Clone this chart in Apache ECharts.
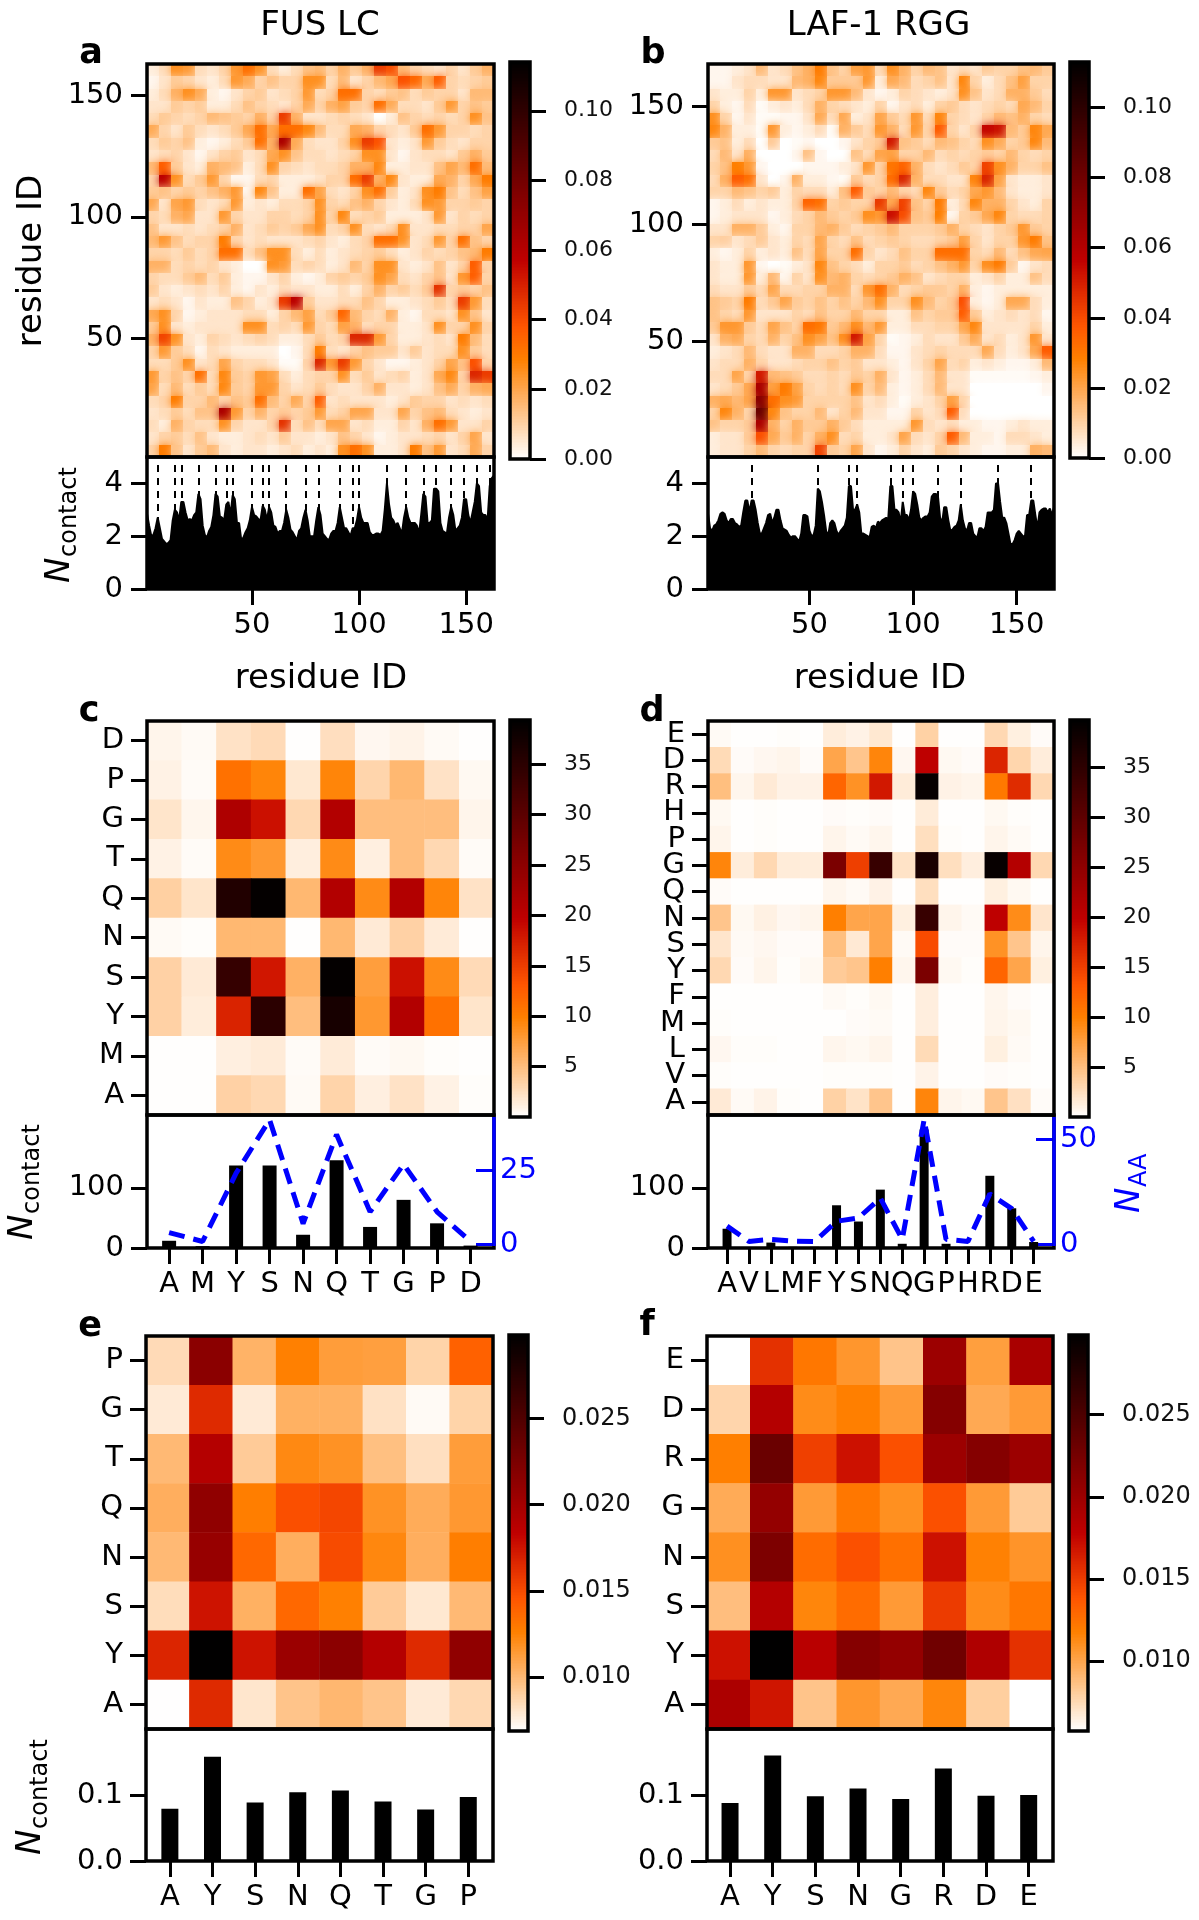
<!DOCTYPE html>
<html><head><meta charset="utf-8">
<style>html,body{margin:0;padding:0;background:#fff}#c{width:1199px;height:1920px}</style>
<script src="https://cdn.jsdelivr.net/npm/echarts@6/dist/echarts.min.js"></script>
</head><body><div id="c"></div>
<script>
// ---------- Panel a: residue contact map, coarse reading, rows from top to bottom
const mapA = [
[8,12,30,28,12,10,14,28,38,30,12,8,12,18,20,14,22,16,22,50,46,20,14,12,10,14,10,16,22],
[6,10,16,14,10,8,12,28,24,14,18,14,14,30,30,12,20,10,14,20,24,45,40,24,42,14,12,14,16],
[8,12,22,30,24,8,6,10,14,16,10,12,14,28,12,14,38,38,14,12,16,18,12,16,14,14,10,20,20],
[10,10,16,14,16,8,8,12,18,14,12,10,14,24,14,22,26,16,14,38,24,12,12,10,16,28,14,18,16],
[12,16,14,12,14,20,18,16,14,22,14,50,22,10,10,12,14,12,10,4,8,18,14,12,14,12,14,30,18],
[24,14,10,16,12,10,12,16,24,38,24,38,38,32,20,12,12,24,22,14,12,10,16,38,28,14,14,12,14],
[12,16,14,18,8,6,8,12,16,38,22,70,24,12,10,10,14,30,50,45,10,8,10,28,16,12,10,14,14],
[10,12,14,10,6,10,14,16,10,12,24,30,18,12,12,10,12,14,30,30,10,6,10,12,12,10,16,22,16],
[20,42,16,10,8,22,20,18,8,12,30,14,12,10,12,12,14,22,22,32,8,8,10,10,18,25,20,38,20],
[14,65,30,12,16,28,14,6,6,12,14,8,8,8,10,14,14,38,50,22,32,10,8,8,24,22,14,24,35],
[16,18,14,16,14,18,22,28,6,32,18,8,8,38,26,12,10,14,30,38,16,8,10,30,35,18,12,18,26],
[25,10,25,28,12,10,12,28,8,10,8,12,12,14,30,14,12,18,22,14,10,8,12,30,28,14,14,16,14],
[14,12,22,25,10,10,28,14,10,10,14,14,12,14,30,14,32,12,14,16,8,8,8,10,28,10,14,12,14],
[18,10,10,12,10,12,14,22,10,12,16,14,16,24,30,12,14,30,12,10,12,30,10,10,12,12,14,14,25],
[20,28,18,12,14,14,35,14,10,12,10,10,10,12,14,10,8,12,14,38,38,30,10,12,28,14,38,18,14],
[14,14,12,16,12,14,38,38,12,18,30,30,12,8,12,8,10,12,14,16,12,8,10,14,12,14,18,20,35],
[22,22,12,14,12,14,10,8,4,4,30,28,12,14,12,8,10,20,14,30,30,10,8,10,18,10,14,42,14],
[14,12,12,16,20,12,16,8,6,6,10,14,8,6,8,14,16,14,16,30,26,12,10,14,18,10,28,42,14],
[16,10,8,10,12,10,14,8,6,10,8,12,10,10,8,8,12,8,14,22,14,16,12,16,52,14,16,14,18],
[10,12,10,6,10,8,8,18,14,8,10,50,65,16,10,10,12,12,18,14,8,8,10,12,16,12,50,28,12],
[24,30,14,6,8,10,10,10,12,12,8,14,20,26,12,16,40,20,14,12,22,8,6,12,12,10,30,18,10],
[16,30,10,8,10,10,10,10,30,30,12,14,12,28,14,12,26,22,12,14,14,8,8,10,30,14,14,30,14],
[22,48,30,10,8,14,12,10,12,14,12,8,8,12,16,12,14,55,55,28,14,8,8,10,12,10,35,20,12],
[14,28,16,12,6,12,10,8,8,8,8,4,6,12,35,12,10,14,18,16,16,10,16,10,12,12,30,16,12],
[12,12,16,30,10,12,25,14,12,12,10,5,5,14,55,28,50,28,14,10,6,6,8,10,14,25,18,45,14],
[28,14,18,14,38,12,32,16,14,28,26,12,8,12,14,14,30,12,16,10,12,14,8,10,24,32,14,55,50],
[26,12,20,12,16,12,32,16,14,28,28,14,10,12,16,12,10,10,14,22,10,10,8,10,18,24,14,22,24],
[12,14,35,14,14,20,14,18,16,38,20,14,24,14,42,10,12,10,10,10,8,10,16,14,14,10,12,10,12],
[10,12,16,12,18,18,70,28,14,22,14,16,14,16,28,12,14,25,25,10,10,25,14,18,20,12,10,8,10],
[12,8,22,14,12,12,30,14,10,10,14,52,12,18,12,25,25,10,12,8,8,14,10,22,38,28,10,10,14],
[10,14,16,12,18,10,8,8,10,12,10,16,10,10,8,10,18,14,10,6,8,10,10,12,14,10,14,25,10],
[14,35,18,10,16,20,10,8,10,10,8,10,12,8,10,8,30,38,30,8,8,10,35,18,28,10,12,24,14]];
// ---------- Panel b: same reading
const mapB = [
[6,6,8,10,20,10,12,18,22,35,18,14,26,28,12,30,22,14,20,18,10,12,10,16,14,14,18,20,16],
[6,6,10,12,12,10,10,20,22,32,16,16,16,28,8,24,20,12,14,18,10,32,14,8,12,18,26,14,14],
[10,8,8,14,8,28,28,10,12,14,28,28,20,10,6,8,14,12,10,8,10,30,18,10,12,22,22,16,12],
[14,8,6,12,5,8,10,8,12,22,14,12,10,8,14,6,10,12,8,14,16,12,10,12,14,12,24,20,14],
[30,14,6,10,5,5,6,6,10,24,12,24,8,10,25,16,12,28,12,32,14,12,10,14,20,18,22,14,12],
[32,22,8,8,5,28,8,6,8,12,5,22,16,12,28,22,12,28,14,42,14,10,14,62,60,20,16,32,24],
[16,18,8,12,4,16,4,5,6,4,3,6,10,14,16,58,18,16,12,20,18,14,12,30,24,14,16,32,20],
[12,20,10,22,4,3,3,6,18,6,4,4,18,12,25,26,14,14,20,12,14,12,14,16,14,20,14,12,14],
[14,18,34,28,6,4,3,4,6,6,6,8,10,28,14,36,40,22,12,10,12,16,14,48,30,22,14,14,18],
[12,22,42,38,10,4,6,22,8,8,6,5,16,12,14,38,55,22,12,12,10,10,32,55,26,10,8,8,10],
[14,14,20,18,14,16,8,14,12,12,8,18,42,16,14,20,14,12,32,16,12,14,24,28,20,10,8,8,10],
[6,8,12,8,10,8,8,14,40,38,14,16,14,14,50,24,48,18,14,35,8,12,32,22,22,14,10,8,14],
[6,8,10,10,10,6,8,12,14,20,16,14,16,30,28,60,46,18,16,34,6,14,16,24,32,14,12,12,14],
[10,10,22,22,16,8,6,14,14,20,22,16,12,14,16,20,14,14,14,16,22,14,12,10,14,16,28,16,14],
[14,15,10,12,16,10,8,14,12,25,14,12,18,12,14,16,14,12,12,14,16,26,14,10,14,14,28,35,18],
[8,6,8,14,8,10,8,18,12,25,14,14,38,14,10,12,18,14,14,38,38,38,14,12,20,12,18,24,25],
[10,8,8,28,6,4,5,8,10,32,18,14,12,8,14,14,16,12,14,18,22,28,14,30,35,16,6,10,12],
[10,8,8,28,8,20,6,14,10,30,20,22,14,12,14,16,22,18,10,12,14,14,8,10,14,8,8,18,12],
[12,10,10,16,12,25,12,12,14,14,22,22,12,28,38,22,12,14,16,16,14,22,8,6,8,8,8,8,8],
[18,16,14,35,12,16,25,16,14,18,14,18,14,20,30,14,14,30,20,14,16,45,8,6,8,24,24,12,8],
[18,14,12,28,10,10,10,14,12,18,14,14,20,14,14,8,8,18,14,16,16,42,16,8,10,12,10,12,6],
[16,28,28,16,12,25,18,14,38,36,16,20,30,20,28,8,8,12,12,14,14,24,32,10,10,10,10,14,8],
[10,22,24,14,12,22,14,18,30,26,18,30,58,26,14,5,6,8,12,10,10,16,24,10,12,8,10,28,10],
[8,10,12,20,12,10,10,22,22,12,12,14,22,22,12,6,6,10,12,14,12,12,12,24,12,8,10,24,42],
[10,12,12,22,14,10,10,12,14,14,18,14,16,10,10,8,6,10,14,25,12,14,8,10,8,6,6,8,20],
[12,12,25,14,58,20,18,16,12,12,14,12,16,14,22,10,6,8,12,20,10,10,5,5,5,5,5,6,8],
[10,12,16,24,70,26,35,26,14,12,14,12,30,14,20,8,6,8,12,20,10,10,3,3,3,3,3,4,6],
[22,24,20,25,80,38,30,28,14,14,14,14,18,10,12,8,5,8,10,14,26,14,3,3,3,3,3,3,4],
[14,32,22,14,90,32,18,14,14,20,10,14,20,10,10,6,6,14,10,12,42,12,3,3,3,3,3,3,4],
[18,14,14,16,70,22,14,22,16,16,22,16,12,8,8,8,8,28,12,10,12,8,8,6,6,8,10,8,8],
[8,10,10,16,45,24,16,22,14,22,30,12,14,8,8,10,25,12,10,14,42,20,8,8,6,12,12,10,8],
[8,10,10,14,20,14,12,14,14,48,16,14,25,10,6,8,14,10,8,16,14,10,8,6,6,8,8,22,20]];
// my grid readings run a little high on the pale background: this is the colour-bar calibration of those readings
const readingZero = 4, readingGain = 0.00095;
// ---------- Per-residue contact profiles
const profileA = [2.85,2.4,2.0,2.05,2.3,2.7,2.3,1.9,1.8,1.7,1.75,1.85,2.6,3.0,2.9,2.6,3.3,3.3,2.9,2.6,2.65,2.6,2.8,2.9,3.6,3.4,2.4,2.05,1.95,2.2,2.35,2.8,3.6,3.5,2.75,2.7,2.6,3.2,3.3,2.8,3.55,3.4,2.5,2.5,1.85,1.95,2.15,2.3,2.6,3.1,2.8,2.75,2.65,2.6,3.15,3.0,2.6,3.1,2.9,2.4,2.35,2.1,2.2,2.2,2.5,3.0,2.7,2.25,2.15,2.0,1.85,2.2,2.3,2.7,3.0,2.6,2.0,2.0,2.0,2.6,3.1,2.8,2.1,2.0,1.9,1.85,2.1,2.2,2.2,2.5,3.1,2.7,2.3,2.3,2.15,2.0,2.3,2.3,2.6,3.1,2.7,2.5,2.5,2.5,2.15,2.05,2.05,2.1,2.1,2.05,2.2,3.0,4.0,3.2,2.7,2.6,2.4,2.5,2.3,2.1,2.7,3.1,2.7,2.5,2.5,2.5,2.4,2.1,2.8,3.6,3.5,2.5,2.5,2.6,3.8,3.8,3.7,2.5,2.2,2.15,2.1,2.7,3.1,2.8,2.2,2.3,2.4,2.7,3.4,3.4,2.8,2.5,2.9,3.3,4.0,3.9,2.9,2.8,2.8,2.6,3.9,4.2,4.3];
const profileB = [2.85,2.3,2.2,2.4,2.45,2.6,2.85,2.9,2.85,2.6,2.5,2.65,2.65,2.5,2.45,2.35,2.4,2.9,3.35,3.35,2.9,3.35,3.35,3.0,2.5,2.1,2.1,2.3,2.5,2.8,2.85,2.5,2.7,3.0,3.0,2.6,2.3,2.25,2.2,2.05,1.95,2.0,2.0,1.9,1.8,2.1,2.8,2.8,2.75,2.2,2.0,2.05,2.4,3.8,3.7,3.3,2.8,2.2,2.0,2.5,2.6,2.5,2.2,2.05,2.2,2.3,2.4,2.7,3.9,3.9,3.0,3.0,3.2,2.9,2.1,2.1,2.05,2.0,1.95,2.35,2.4,2.3,2.55,2.5,2.6,2.65,2.7,2.65,3.9,3.9,3.0,3.0,2.9,2.5,3.3,2.8,2.8,2.6,3.0,3.7,3.6,3.2,2.7,2.6,2.7,2.75,2.75,2.9,3.5,3.6,3.6,3.5,2.7,2.5,3.1,3.1,2.6,2.2,2.25,2.35,2.4,2.6,3.2,2.6,2.3,2.2,2.5,2.5,2.1,2.0,1.95,2.3,2.3,2.2,2.35,2.9,2.9,2.9,3.0,4.0,4.0,3.3,2.7,2.7,2.5,2.1,1.7,1.7,1.85,2.1,2.2,2.1,2.0,2.0,2.8,2.8,3.35,3.35,2.8,2.3,2.9,3.0,3.05,3.05,2.9,3.05,2.8,3.1];
const peaksA = [6,14,17,25,33,38,41,50,55,58,66,75,81,91,97,100,113,122,130,136,143,149,155,161];
const peaksB = [22,54,69,73,89,95,100,112,123,141,157];
// ---------- Panel c: contact sum, rows top to bottom
const catsC = ['A','M','Y','S','N','Q','T','G','P','D'];
const matC = [
[.8,.4,2.2,2.8,.1,2.5,.6,.9,.4,.1],
[1,.3,11,9.5,1.8,9.5,3.2,5.5,2.2,.5],
[2,.7,21.5,18.5,3,21,5,5,5,.8],
[1,.3,9,8,1.3,9,1.2,5,3,.3],
[3.6,2,36,39,5.5,21,9,21,9.5,2.2],
[.4,.2,5.5,5.5,.1,5.5,1.6,3.5,1.5,.1],
[3.5,1.6,34,18,6,39,7.5,18.5,9,2.8],
[3.5,1.4,17,35,5,37,8,21,11,2],
[.1,.1,1.2,1.5,.3,1.5,.3,.5,.2,.1],
[.1,.1,3.5,3,.4,3.3,1.2,2.2,1,.2]];
const barsC = [12,3,137,137,22,146,35,80,41,4];
const countC = [4,1,24,42,7,37,11,27,11,1];
// ---------- Panel d
const catsD = ['A','V','L','M','F','Y','S','N','Q','G','P','H','R','D','E'];
const matD = [
[.4,.1,.1,.2,.1,1.4,1,1.8,.1,3.5,.1,.1,3,1.2,.3],
[2.8,.3,.6,.8,.3,7,4.5,9.5,.6,20,.5,.3,17,3.2,1.4],
[5,.7,1.6,1,1,12,8.5,18,1.5,39,1,.8,10.5,16.5,3],
[.5,.1,.2,.1,.1,.3,.2,.3,.1,1.5,.1,.1,.5,.2,.1],
[.8,.1,.2,.1,.1,.8,.4,.7,.1,2.5,.2,.1,.8,.4,.1],
[9.5,1.4,3,1.5,1.4,27,15,34,2.2,37,2.5,1.3,39,21,3],
[.3,.1,.1,.1,.1,.7,.4,1,.1,2.5,.1,.1,1.2,.5,.1],
[4.5,.5,1.1,.6,.8,10,7,7,1.2,34,.8,.4,20,9,2],
[2,.4,.6,.3,.3,5,1.7,7,.4,14,.3,.3,8.5,4.5,.8],
[3,.3,.8,.2,.5,4,4.5,10,.7,27,.5,.2,12,7,1.2],
[.1,.1,.1,.1,.1,.4,.2,.5,.1,1.3,.1,.1,.7,.3,.1],
[.2,.1,.1,.1,.1,.1,.3,.4,.1,1.3,.1,.1,.8,.5,.1],
[.6,.2,.2,.1,.1,.7,.5,.8,.1,2.8,.1,.1,1.2,.4,.1],
[.2,.1,.1,.1,.1,.2,.2,.2,.1,.9,.1,.1,.3,.2,.1],
[1.6,.4,.9,.2,.1,3.5,2.2,4.5,.1,9.5,.8,.5,4.5,2.4,.3]];
const barsD = [32,1,9,2,2,71,44,97,7,197,7,2,120,66,10];
const countD = [8.7,1.4,2.4,1.6,1.4,11,12.6,22,2.4,59.4,2.4,1.4,24,17,1.4];
// ---------- Panel e
const catsE = ['A','Y','S','N','Q','T','G','P'];
const matE = [
[.0085,.0215,.0103,.0126,.0113,.0112,.0088,.0140],
[.0078,.0165,.0078,.0104,.0104,.0082,.0071,.0088],
[.0100,.0190,.0092,.0122,.0118,.0097,.0083,.0113],
[.0105,.0212,.0127,.0148,.0152,.0118,.0106,.0115],
[.0100,.0208,.0137,.0105,.0150,.0123,.0105,.0127],
[.0084,.0175,.0104,.0137,.0126,.0092,.0079,.0100],
[.0167,.0298,.0175,.0205,.0215,.0190,.0165,.0212],
[.0069,.0165,.0080,.0095,.0101,.0095,.0078,.0086]];
const barsE = [.079,.158,.0885,.104,.107,.09,.078,.097];
// ---------- Panel f
const catsF = ['A','Y','S','N','G','R','D','E'];
const matF = [
[.0057,.0155,.0122,.0107,.0085,.0200,.0103,.0192],
[.0077,.0185,.0112,.0118,.0105,.0215,.0098,.0105],
[.0118,.0232,.0148,.0170,.0140,.0200,.0215,.0200],
[.0097,.0205,.0105,.0122,.0110,.0140,.0105,.0082],
[.0110,.0220,.0127,.0140,.0125,.0170,.0117,.0108],
[.0088,.0185,.0115,.0127,.0105,.0150,.0112,.0122],
[.0170,.0298,.0182,.0215,.0205,.0228,.0188,.0155],
[.0190,.0168,.0085,.0107,.0098,.0115,.0080,.0057]];
const barsF = [.088,.16,.098,.11,.094,.14,.099,.1];

// ---------- tick values
const residueTicks = [50,100,150];
const profileTicks = [0,2,4];
const cbarTicksAB = [0,.02,.04,.06,.08,.10];
const cbarTicksCD = [5,10,15,20,25,30,35];
const cbarTicksEF = [.010,.015,.020,.025];

// gist_heat reversed, sampled evenly
const cmap = ['#ffffff','#ffd4aa','#ffaa55','#ff8000','#ff5500','#df2b00','#bf0000','#9f0000','#800000','#600000','#400000','#200000','#000000'];

const FONT = '"DejaVu Sans"';
const opt = {animation:false, backgroundColor:'#fff', textStyle:{fontFamily:FONT},
  grid:[], xAxis:[], yAxis:[], series:[], visualMap:[], graphic:{elements:[]}};
const G = opt.graphic.elements;

function addGrid(l,t,w,h){ opt.grid.push({left:l,top:t,width:w,height:h,containLabel:false,show:false});
  G.push({type:'rect',z:100,silent:true,shape:{x:l,y:t,width:w,height:h},style:{fill:'none',stroke:'#000',lineWidth:3.5}});
  return opt.grid.length-1; }
function tick(len,color){return {show:true,length:len||16,lineStyle:{color:color||'#000',width:3}};}
function addX(o){opt.xAxis.push(o);return opt.xAxis.length-1;}
function addY(o){opt.yAxis.push(o);return opt.yAxis.length-1;}
const noLine = {show:false,onZero:false};
const hidden = {axisLine:noLine,axisTick:{show:false},axisLabel:{show:false},splitLine:{show:false}};
const tickLabel = {color:'#000',fontSize:29,fontFamily:FONT};
const yLabel = {...tickLabel,padding:[5,0,0,0]};

function rectItem(params,api){
  const a=api.coord([api.value(0),api.value(1)]), b=api.coord([api.value(3),api.value(4)]);
  const x0=Math.round(a[0]),x1=Math.round(b[0]),y0=Math.round(a[1]),y1=Math.round(b[1]);
  return {type:'rect',shape:{x:x0,y:y1,width:x1-x0,height:y0-y1},style:{fill:api.visual('color')}};
}
// the residue maps are smoothed images in the reference: soften the cell edges the same way
function softRectItem(params,api){
  const el=rectItem(params,api);
  el.style.shadowBlur=9; el.style.shadowColor=el.style.fill;
  return el;
}
function addColorbar(box,vmin,vmax,ticks,digits,font,heatSeries){
  const g=addGrid(box[0],box[1],box[2],box[3]);
  const x=addX({type:'value',gridIndex:g,min:0,max:1,...hidden});
  const y=addY({type:'value',gridIndex:g,min:vmin,max:vmax,position:'right',
    axisLine:noLine,splitLine:{show:false},
    axisTick:{...tick(16),customValues:ticks},
    axisLabel:{show:true,customValues:ticks,color:'#111',fontSize:font,fontFamily:FONT,margin:34,padding:[5,0,0,0],formatter:v=>Number(v).toFixed(digits)}});
  const steps=[]; const n=256;
  for(let i=0;i<n;i++){const a=vmin+(vmax-vmin)*i/n,b=vmin+(vmax-vmin)*(i+1)/n;steps.push([0,a,a+(b-a)/2,1,b]);}
  opt.series.push({type:'custom',xAxisIndex:x,yAxisIndex:y,renderItem:rectItem,data:steps,encode:{x:[0,3],y:[1,4]},silent:true});
  opt.visualMap.push({show:false,type:'continuous',min:vmin,max:vmax,dimension:2,inRange:{color:cmap},seriesIndex:[heatSeries,opt.series.length-1]});
}
function residuePanel(box,barH,cbar,vmax,map,profile,peaks,n){
  const g=addGrid(box[0],box[1],box[2],box[3]);
  const x=addX({type:'value',gridIndex:g,min:1,max:n,...hidden});
  const y=addY({type:'value',gridIndex:g,min:1,max:n,axisLine:noLine,splitLine:{show:false},
    axisTick:{...tick(16),customValues:residueTicks},
    axisLabel:{show:true,...yLabel,margin:24,customValues:residueTicks}});
  const rows=map.length,cols=map[0].length,cells=[];
  map.forEach((row,r)=>row.forEach((v,c)=>{
    const x0=1+(n-1)*c/cols,x1=1+(n-1)*(c+1)/cols,y1=n-(n-1)*r/rows,y0=n-(n-1)*(r+1)/rows;
    cells.push([x0,y0,Math.max(0,v-readingZero)*readingGain,x1,y1]);}));
  opt.series.push({type:'custom',xAxisIndex:x,yAxisIndex:y,renderItem:softRectItem,clip:true,data:cells,encode:{x:[0,3],y:[1,4]},silent:true});
  const heat=opt.series.length-1;
  const g2=addGrid(box[0],box[1]+box[3],box[2],barH);
  const x2=addX({type:'value',gridIndex:g2,min:1,max:n,axisLine:noLine,splitLine:{show:false},
    axisTick:{...tick(16),customValues:residueTicks},axisLabel:{show:true,...tickLabel,margin:22,customValues:residueTicks}});
  const y2=addY({type:'value',gridIndex:g2,min:0,max:5,axisLine:noLine,splitLine:{show:false},
    axisTick:{...tick(16),customValues:profileTicks},axisLabel:{show:true,...yLabel,margin:24,customValues:profileTicks}});
  opt.series.push({type:'line',xAxisIndex:x2,yAxisIndex:y2,symbol:'none',silent:true,
    data:profile.map((v,i)=>[i+1,v]),lineStyle:{color:'#000',width:2},areaStyle:{color:'#000',opacity:1},
    markLine:{silent:true,symbol:['none','none'],label:{show:false},animation:false,
      lineStyle:{color:'#000',type:[7,6],width:2},
      data:peaks.map(p=>[{coord:[p,0]},{coord:[p,4.87]}])}});
  addColorbar(cbar,0,vmax,cbarTicksAB,2,22,heat);
}
function catPanel(box,barH,cbar,vmin,vmax,cats,mat,bars,count,blue,ctick,digits,cfont,xrange,barW,barMax,yticks,yfmt){
  const g=addGrid(box[0],box[1],box[2],box[3]);
  const x=addX({type:'category',gridIndex:g,data:cats,...hidden});
  const y=addY({type:'category',gridIndex:g,data:cats,axisLine:noLine,splitLine:{show:false},
    axisTick:{...tick(16),alignWithLabel:true},axisLabel:{show:true,...yLabel,interval:0,margin:23}});
  const cells=[]; const rows=mat.length;
  mat.forEach((row,r)=>row.forEach((v,c)=>cells.push([c,rows-1-r,v])));
  opt.series.push({type:'heatmap',xAxisIndex:x,yAxisIndex:y,data:cells,silent:true,progressive:0});
  const heat=opt.series.length-1;
  const g2=addGrid(box[0],box[1]+box[3],box[2],barH);
  const idx=cats.map((c,i)=>i);
  const x2=addX({type:'value',gridIndex:g2,min:xrange[0],max:xrange[1],axisLine:noLine,splitLine:{show:false},
    axisTick:{...tick(16),customValues:idx},
    axisLabel:{show:true,...tickLabel,margin:22,customValues:idx,formatter:v=>cats[Math.round(v)]}});
  const y2=addY({type:'value',gridIndex:g2,min:0,max:barMax,axisLine:noLine,splitLine:{show:false},
    axisTick:{...tick(16),customValues:yticks},axisLabel:{show:true,...yLabel,margin:23,customValues:yticks,formatter:yfmt}});
  opt.series.push({type:'bar',xAxisIndex:x2,yAxisIndex:y2,barWidth:barW,silent:true,itemStyle:{color:'#000'},data:bars.map((v,i)=>[i,v])});
  if(count){
    const y3=addY({type:'value',gridIndex:g2,position:'right',min:blue.min,max:blue.max,axisLine:noLine,splitLine:{show:false},
      axisTick:{show:true,inside:true,length:18,lineStyle:{color:'#00f',width:3},customValues:blue.ticks},
      axisLabel:{show:true,color:'#00f',fontSize:29,fontFamily:FONT,margin:6,padding:[5,0,0,0],customValues:blue.ticks}});
    opt.series.push({type:'line',xAxisIndex:x2,yAxisIndex:y3,symbol:'none',silent:true,z:5,
      data:count.map((v,i)=>[i,v]),lineStyle:{color:'#00f',width:5,type:[16,9]}});
    const xr=box[0]+box[2];
    G.push({type:'line',z:101,silent:true,shape:{x1:xr,y1:box[1]+box[3]+2,x2:xr,y2:box[1]+box[3]+131},style:{stroke:'#00f',lineWidth:3.5}});
  }
  addColorbar(cbar,vmin,vmax,ctick,digits,cfont,heat);
}

// ---------- panels
residuePanel([147,64,347,393],132,[510,62,20,397],.114,mapA,profileA,peaksA,163);
residuePanel([708,64,346,393],132,[1070,62,19,396],.113,mapB,profileB,peaksB,168);
const yint=v=>v, yfix=v=>Number(v).toFixed(1);
catPanel([147,721,347,394],133,[510,720,20,397],.01,39.4,catsC,matC,barsC,countC,{min:-1.2,max:43.6,ticks:[0,25]},cbarTicksCD,0,22,[-.66,9.7],14,221,[0,100],yint);
catPanel([708,721,346,394],133,[1070,720,19,397],.01,39.7,catsD,matD,barsD,countD,{min:-1.7,max:61.5,ticks:[0,50]},cbarTicksCD,0,22,[-.87,14.93],9,221,[0,100],yint);
catPanel([146,1336,347,393],132,[509,1335,19,396],.00687,.02985,catsE,matE,barsE,null,null,cbarTicksEF,3,24,[-.56,7.58],17,.2,[0,.1],yfix);
catPanel([707,1336,346,393],132,[1069,1335,19,396],.00574,.02985,catsF,matF,barsF,null,null,cbarTicksEF,3,24,[-.54,7.57],17,.2,[0,.1],yfix);

// ---------- texts
function txt(s,x,y,size,o){o=o||{};G.push({type:'text',z:110,silent:true,x:x,y:y,rotation:o.rot||0,
  style:{text:s,fill:o.fill||'#000',font:(o.st||'normal')+' '+(o.w||'normal')+' '+size+'px '+FONT,align:o.align||'center',verticalAlign:'middle'}});}
txt('FUS LC',320,26,34); txt('LAF-1 RGG',878.5,26,34);
txt('residue ID',321,679,34); txt('residue ID',880,679,34);
txt('residue ID',32,261,34,{rot:Math.PI/2});
[['a',91,54],['b',653,54],['c',89,712],['d',652,712],['e',90,1327],['f',647,1326]].forEach(p=>txt(p[0],p[1],p[2],35,{w:'bold'}));
function sub(main,s,x,yBottom,color){
  txt(main,x,yBottom,34,{rot:Math.PI/2,align:'left',st:'italic',fill:color});
  txt(s,x+10,yBottom-26,24,{rot:Math.PI/2,align:'left',fill:color});
}
sub('N','contact',60,583,'#000'); sub('N','contact',23,1240,'#000'); sub('N','contact',31,1855,'#000');
sub('N','AA',1130,1213,'#00f');

const chart=echarts.init(document.getElementById('c'),null,{renderer:'canvas',width:1199,height:1920});
chart.setOption(opt);
</script></body></html>
